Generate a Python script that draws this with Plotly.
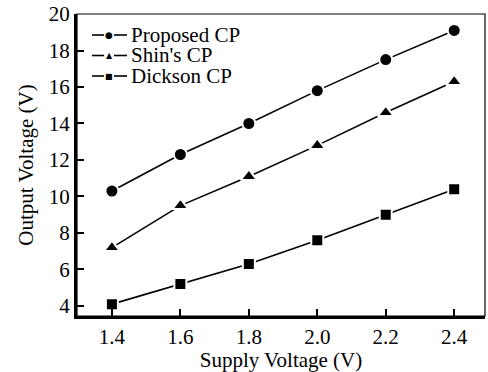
import plotly.graph_objects as go

supply = [1.4, 1.6, 1.8, 2.0, 2.2, 2.4]
proposed = [10.3, 12.3, 14.0, 15.8, 17.5, 19.1]
shin = [7.2, 9.5, 11.1, 12.8, 14.6, 16.3]
dickson = [4.1, 5.2, 6.3, 7.6, 9.0, 10.4]
series_names = ["Proposed CP", "Shin's CP", "Dickson CP"]

font = "Liberation Serif"
W, H = 488, 372
L, R, T, B = 77, 3, 14, 56
pw, ph = W - L - R, H - T - B

def px(x):
    return (x - L) / pw

def py(y):
    return (H - B - y) / ph

fig = go.Figure()
styles = [("circle", 13, "●", 9), ("triangle-up", 14, "▲", 8), ("square", 12, "■", 8)]
shapes = []
annotations = []
legend_rows = [35, 55.5, 76]
for name, ys, (sym, sz, glyph, gsz), ry in zip(series_names, [proposed, shin, dickson], styles, legend_rows):
    fig.add_trace(go.Scatter(
        x=supply, y=ys, name=name, mode="lines+markers",
        line=dict(color="black", width=1.6),
        marker=dict(symbol=sym, size=sz, color="black",
                    line=dict(color="white", width=2)),
        showlegend=False,
    ))
    for a, b in [(92, 104), (114, 127)]:
        shapes.append(dict(type="line", xref="paper", yref="paper",
                           x0=px(a), x1=px(b), y0=py(ry), y1=py(ry),
                           line=dict(color="black", width=1.6)))
    annotations.append(dict(xref="paper", yref="paper", x=px(109), y=py(ry),
                            text=glyph, showarrow=False, xanchor="center", yanchor="middle",
                            font=dict(family="DejaVu Sans", size=gsz, color="black")))
    annotations.append(dict(xref="paper", yref="paper", x=px(129), y=py(ry),
                            text=name, showarrow=False, xanchor="left", yanchor="middle",
                            font=dict(family=font, size=21, color="black")))

shapes.append(dict(type="rect", xref="paper", yref="paper", x0=0, y0=0, x1=1, y1=1,
                   line=dict(color="black", width=1.2)))

fig.update_layout(
    width=W, height=H,
    margin=dict(l=L, r=R, t=T, b=B),
    plot_bgcolor="white", paper_bgcolor="white",
    font=dict(family=font, size=21, color="black"),
    showlegend=False,
    shapes=shapes, annotations=annotations,
)
fig.update_xaxes(range=[1.298, 2.49], tickvals=supply, ticktext=["1.4", "1.6", "1.8", "2.0", "2.2", "2.4"],
                 tickfont=dict(family=font, size=21, color="black"),
                 ticks="inside", ticklen=7, tickwidth=2, tickcolor="black",
                 showline=True, linewidth=3, linecolor="black", mirror=False,
                 showgrid=False, zeroline=False,
                 title=dict(text="Supply Voltage (V)", standoff=4, font=dict(family=font, size=21)))
fig.update_yaxes(range=[3.45, 20.0], tickvals=[4, 6, 8, 10, 12, 14, 16, 18, 20],
                 tickfont=dict(family=font, size=21, color="black"),
                 ticks="inside", ticklen=7, tickwidth=2, tickcolor="black",
                 showline=True, linewidth=3, linecolor="black",
                 showgrid=False, zeroline=False,
                 title=dict(text="Output Voltage (V)", standoff=10, font=dict(family=font, size=21)))
fig.write_html("out.html")
